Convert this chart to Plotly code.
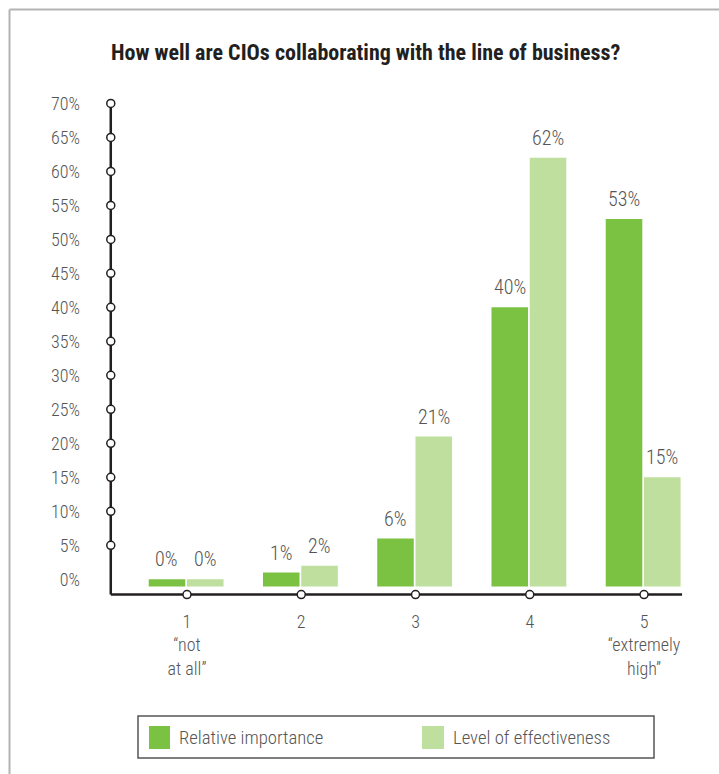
import plotly.graph_objects as go

# ---- data ----
categories = [1, 2, 3, 4, 5]
category_labels = ["1<br>“not<br>at all”", "2", "3", "4", "5<br>“extremely<br>high”"]
relative_importance = [0, 1, 6, 40, 53]
level_of_effectiveness = [0, 2, 21, 62, 15]
series_names = ["Relative importance", "Level of effectiveness"]
y_ticks = list(range(0, 75, 5))
y_tick_labels = [f"{v}%" for v in y_ticks]
title_text = "How well are CIOs collaborating with the line of business?"

# ---- layout constants ----
W, H = 719, 774
L, R, T, B = 107, 35, 100, 177
X_RANGE = [0.3, 5.35]
Y_RANGE = [-2.6, 70.5]
AXIS_X = 0.333          # where the vertical axis sits (data units)
AXIS_X_END = 5.333
AXIS_Y = -2.25          # where the horizontal axis sits (data units)
BAR_BASE = -1.05
BAR_W = 0.32
OFFSETS = [-0.335, 0.0]
COLORS = ["#7cc242", "#bedf9d"]
AXIS_COLOR = "#231f20"
TEXT_COLOR = "#555555"
FONT = "Liberation Sans Narrow, Arial Narrow, Roboto Condensed, sans-serif"

PW, PH = W - L - R, H - T - B


def px_x(px):
    return (px - L) / PW


def px_y(py):
    return (H - B - py) / PH


fig = go.Figure()

series = [relative_importance, level_of_effectiveness]
annotations = []
for vals, name, off, col in zip(series, series_names, OFFSETS, COLORS):
    fig.add_trace(go.Bar(
        x=categories,
        y=[v - BAR_BASE for v in vals],
        base=BAR_BASE,
        offset=off,
        width=BAR_W,
        name=name,
        marker=dict(color=col, line=dict(width=0)),
        showlegend=False,
        hovertemplate="%{x}: " + "%{customdata}%<extra>" + name + "</extra>",
        customdata=vals,
    ))
    for c, v in zip(categories, vals):
        annotations.append(dict(
            x=c + off + BAR_W / 2, y=v, xref="x", yref="y",
            text=f"{v}%", showarrow=False, yanchor="bottom", yshift=6,
            font=dict(family=FONT, size=20, color=TEXT_COLOR, weight=300),
        ))

# axis lines
fig.add_trace(go.Scatter(
    x=[AXIS_X, AXIS_X], y=[AXIS_Y, y_ticks[-1]], mode="lines",
    line=dict(color=AXIS_COLOR, width=2.5), hoverinfo="skip", showlegend=False))
fig.add_trace(go.Scatter(
    x=[AXIS_X, AXIS_X_END], y=[AXIS_Y, AXIS_Y], mode="lines",
    line=dict(color=AXIS_COLOR, width=2.5), hoverinfo="skip", showlegend=False))

# circle tick marks
marker_style = dict(symbol="circle", size=8, color="white",
                    line=dict(color=AXIS_COLOR, width=1.5))
fig.add_trace(go.Scatter(
    x=[AXIS_X] * (len(y_ticks) - 1), y=y_ticks[1:], mode="markers",
    marker=marker_style, cliponaxis=False, hoverinfo="skip", showlegend=False))
fig.add_trace(go.Scatter(
    x=categories, y=[AXIS_Y] * len(categories), mode="markers",
    marker=marker_style, cliponaxis=False, hoverinfo="skip", showlegend=False))

# legend box drawn by hand
shapes = [
    dict(type="rect", xref="paper", yref="paper",
         x0=px_x(138), x1=px_x(654), y0=px_y(758), y1=px_y(716),
         line=dict(color="#555555", width=1.5), fillcolor="rgba(0,0,0,0)"),
    dict(type="rect", xref="paper", yref="paper",
         x0=px_x(149), x1=px_x(170), y0=px_y(749), y1=px_y(726),
         line=dict(width=0), fillcolor=COLORS[0]),
    dict(type="rect", xref="paper", yref="paper",
         x0=px_x(422), x1=px_x(444), y0=px_y(749), y1=px_y(726),
         line=dict(width=0), fillcolor=COLORS[1]),
    # page frame
    dict(type="line", xref="paper", yref="paper",
         x0=px_x(9.5), x1=px_x(9.5), y0=px_y(9.5), y1=px_y(H + 2),
         line=dict(color="#b3b3b3", width=2)),
    dict(type="line", xref="paper", yref="paper",
         x0=px_x(9.5), x1=px_x(W + 2), y0=px_y(9.5), y1=px_y(9.5),
         line=dict(color="#b3b3b3", width=2)),
]
for name, left in zip(series_names, [177, 451]):
    annotations.append(dict(
        x=px_x(left), y=px_y(738), xref="paper", yref="paper",
        text=name, showarrow=False, xanchor="left", yanchor="middle",
        font=dict(family=FONT, size=18.7, color=TEXT_COLOR, weight=300),
    ))

annotations.append(dict(
    x=px_x(365), y=px_y(52), xref="paper", yref="paper",
    text=f"<b>{title_text}</b>", showarrow=False, xanchor="center", yanchor="middle",
    font=dict(family=FONT, size=22, color=AXIS_COLOR),
))

fig.update_layout(
    width=W, height=H,
    margin=dict(l=L, r=R, t=T, b=B, pad=0),
    paper_bgcolor="white", plot_bgcolor="white",
    barmode="overlay",
    showlegend=False,
    shapes=shapes,
    annotations=annotations,
    xaxis=dict(range=X_RANGE, showgrid=False, zeroline=False, showline=False,
               tickmode="array", tickvals=categories, ticktext=category_labels,
               ticks="", ticklabelstandoff=12,
               tickfont=dict(family=FONT, size=18, color=TEXT_COLOR, weight=300),
               fixedrange=True),
    yaxis=dict(range=Y_RANGE, showgrid=False, zeroline=False, showline=False,
               tickmode="array", tickvals=y_ticks, ticktext=y_tick_labels,
               ticks="", ticklabelstandoff=26,
               tickfont=dict(family=FONT, size=18, color=TEXT_COLOR, weight=300),
               fixedrange=True),
)

fig.write_html("out.html")
